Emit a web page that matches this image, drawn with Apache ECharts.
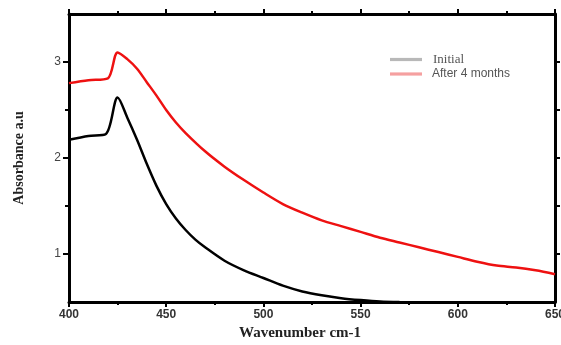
<!DOCTYPE html>
<html><head><meta charset="utf-8">
<script src="https://cdn.jsdelivr.net/npm/echarts@6/dist/echarts.min.js"></script>
<style>html,body{margin:0;padding:0;background:#fff}#c{width:561px;height:345px}</style>
</head><body><div id="c"></div>
<script>
const initialX = [400,410,419,425,430,435,440,445,450,455,460,465,470,480,490,500,510,520,530,540,550,560,570];
const initialY = [2.19,2.23,2.25,2.63,2.42,2.19,1.94,1.71,1.52,1.37,1.25,1.15,1.07,0.93,0.83,0.75,0.67,0.61,0.57,0.54,0.52,0.505,0.5];
const afterX = [400,410,420,425,430,435,440,445,450,455,460,470,480,490,500,510,520,530,540,550,560,570,580,590,600,610,620,630,640,650];
const afterY = [2.78,2.81,2.83,3.10,3.03,2.93,2.79,2.65,2.50,2.37,2.26,2.07,1.91,1.77,1.64,1.52,1.43,1.35,1.29,1.23,1.17,1.12,1.07,1.02,0.97,0.92,0.88,0.86,0.83,0.79];
const xTickLabels = [400,450,500,550,600,650];
const yTickLabels = [1,2,3];
const yMinorTicks = [1.5,2.5];
const seriesNames = ['Initial','After 4 months'];

const pairs = (xs, ys) => xs.map((x,i)=>[x, ys[i]]);
const axisLine = {show:true, lineStyle:{color:'#000', width:3}};
const chart = echarts.init(document.getElementById('c'));
chart.setOption({
  animation:false,
  grid:{left:69, right:6, top:14, bottom:43, outerBoundsMode:'none', containLabel:false},
  legend:{
    orient:'vertical', left:385, top:48, itemWidth:32, itemHeight:12, itemGap:2,
    data:[
      {name:seriesNames[0], icon:'path://M0,0L10,0L10,1L0,1Z', itemStyle:{color:'#b8b8b8'},
       textStyle:{fontFamily:'Liberation Serif', fontSize:13, color:'#555', padding:[0,0,0,6]}},
      {name:seriesNames[1], icon:'path://M0,0L10,0L10,1L0,1Z', itemStyle:{color:'#f5a0a0'},
       textStyle:{fontFamily:'Liberation Sans', fontSize:12, color:'#555', padding:[0,0,0,5]}}
    ]
  },
  xAxis:[{
    type:'value', min:400, max:650, interval:50, position:'bottom',
    axisLine, splitLine:{show:false},
    axisTick:{show:true, length:5, lineStyle:{color:'#000', width:2}},
    minorTick:{show:true, splitNumber:2, length:3, lineStyle:{color:'#000', width:2}},
    axisLabel:{customValues:xTickLabels, color:'#333', fontFamily:'Liberation Sans', fontWeight:'bold', fontSize:12, margin:7},
    name:'Wavenumber cm-1', nameLocation:'middle', nameGap:23,
    nameTextStyle:{fontFamily:'Liberation Serif', fontWeight:'bold', fontSize:15, color:'#222', padding:[0,24,0,0]}
  },{
    type:'value', min:400, max:650, interval:50, position:'top',
    axisLine, splitLine:{show:false},
    axisTick:{show:true, length:5, lineStyle:{color:'#000', width:2}},
    minorTick:{show:true, splitNumber:2, length:3, lineStyle:{color:'#000', width:2}},
    axisLabel:{show:false}
  }],
  yAxis:[{
    type:'value', min:0.5, max:3.5, position:'left',
    axisLine, splitLine:{show:false},
    axisTick:{show:true, customValues:yTickLabels, length:6, lineStyle:{color:'#000', width:2}},
    axisLabel:{customValues:yTickLabels, color:'#444', fontFamily:'Liberation Sans', fontSize:12, margin:8},
    name:'Absorbance a.u', nameLocation:'middle', nameGap:43,
    nameTextStyle:{fontFamily:'Liberation Serif', fontWeight:'bold', fontSize:14, color:'#222'}
  },{
    type:'value', min:0.5, max:3.5, position:'left',
    axisLine:{show:false}, splitLine:{show:false},
    axisTick:{show:true, customValues:yMinorTicks, length:4, lineStyle:{color:'#000', width:2}},
    axisLabel:{show:false}
  },{
    type:'value', min:0.5, max:3.5, position:'right',
    axisLine, splitLine:{show:false},
    axisTick:{show:true, customValues:yTickLabels.concat(yMinorTicks), length:5, lineStyle:{color:'#000', width:2}},
    axisLabel:{show:false}
  }],
  series:[
    {name:seriesNames[0], type:'line', data:pairs(initialX, initialY), smooth:0.3, symbol:'none', clip:true,
     lineStyle:{color:'#000', width:2.5}, itemStyle:{color:'#000'}, z:3},
    {name:seriesNames[1], type:'line', data:pairs(afterX, afterY), smooth:0.3, symbol:'none', clip:true,
     lineStyle:{color:'#ee1111', width:2.5}, itemStyle:{color:'#ee1111'}, z:3}
  ]
});
</script></body></html>
